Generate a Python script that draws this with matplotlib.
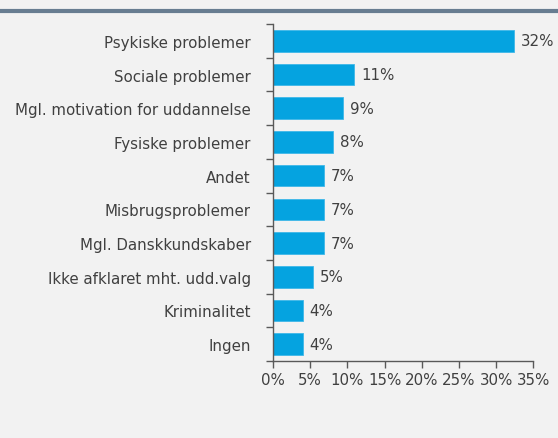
import matplotlib
matplotlib.use("Agg")
import matplotlib.pyplot as plt
from matplotlib.ticker import MultipleLocator, FuncFormatter

# data (top to bottom)
categories = ["Psykiske problemer", "Sociale problemer",
              "Mgl. motivation for uddannelse", "Fysiske problemer", "Andet",
              "Misbrugsproblemer", "Mgl. Danskkundskaber",
              "Ikke afklaret mht. udd.valg", "Kriminalitet", "Ingen"]
values = [32.4, 10.9, 9.4, 8.1, 6.8, 6.8, 6.8, 5.4, 4.0, 4.0]
value_labels = ["32%", "11%", "9%", "8%", "7%", "7%", "7%", "5%", "4%", "4%"]

BG = "#f2f2f2"
BAR = "#05a3e0"
TXT = "#404040"
AXC = "#595959"

plt.rcParams['font.family'] = ['DejaVu Sans']

fig = plt.figure(figsize=(5.58, 4.39), dpi=100, facecolor=BG)
ax = fig.add_axes([0.4892, 0.1754, 0.4665, 0.7676], facecolor=BG)

# header rule across the top (title itself is cut off in the reference)
fig.add_artist(plt.Line2D([0, 1], [1 - 12 / 439, 1 - 12 / 439],
                          transform=fig.transFigure, color="#687d91", linewidth=3))

ypos = list(range(len(categories)))
ax.barh(ypos, values, height=0.64, color=BAR, edgecolor="#3fb8e8", linewidth=0.6)

for y, v, lab in zip(ypos, values, value_labels):
    ax.annotate(lab, xy=(v, y), xytext=(5, 0), textcoords="offset points",
                ha="left", va="center", fontsize=10.8, color=TXT)

ax.set_xlim(0, 35)
ax.set_ylim(len(categories) - 0.5, -0.5)
ax.xaxis.set_major_locator(MultipleLocator(5))
ax.xaxis.set_major_formatter(FuncFormatter(lambda x, p: f"{x:.0f}%"))

# category labels sit between the boundary ticks
ax.set_yticks([i - 0.5 for i in range(len(categories) + 1)])
ax.set_yticklabels([])
ax.set_yticks(ypos, minor=True)
ax.set_yticklabels(categories, minor=True, fontsize=10.8, color=TXT)
ax.tick_params(axis="y", which="minor", length=0, pad=16)
ax.tick_params(axis="y", which="major", length=5, width=1, color=AXC, direction="out")
ax.tick_params(axis="x", length=5, width=1, color=AXC, direction="out",
               labelsize=10.8, labelcolor=TXT, pad=3)

for s in ["top", "right"]:
    ax.spines[s].set_visible(False)
for s in ["left", "bottom"]:
    ax.spines[s].set_color(AXC)
    ax.spines[s].set_linewidth(1)

fig.savefig("out.png", dpi=100, facecolor=BG)
